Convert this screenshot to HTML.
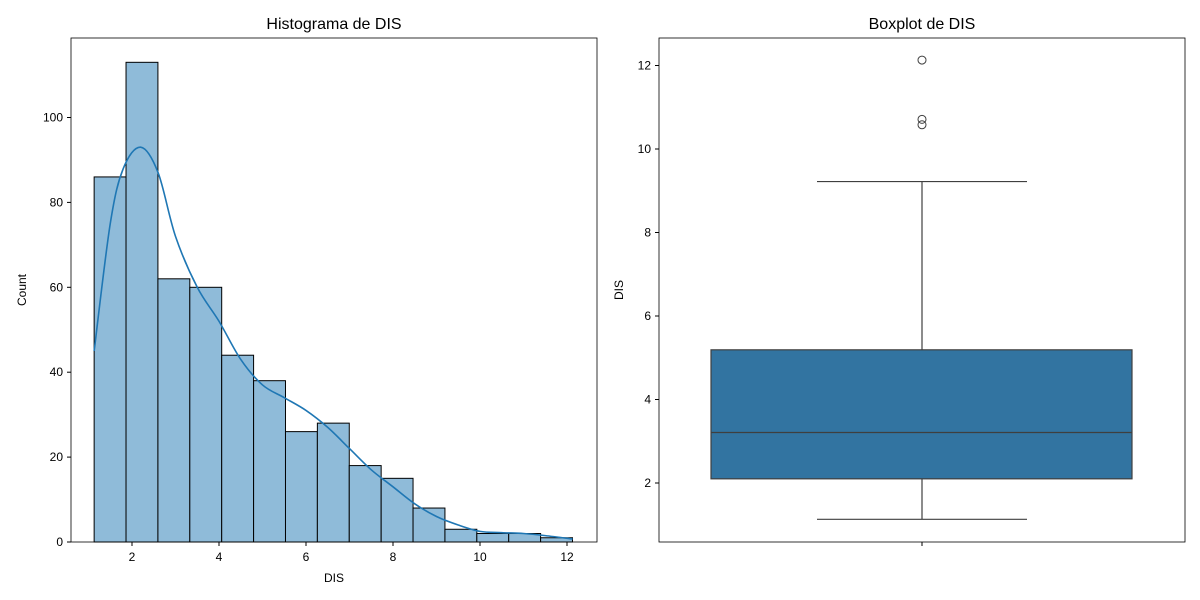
<!DOCTYPE html>
<html><head><meta charset="utf-8"><style>
body{margin:0;background:#fff;}
svg{display:block;font-family:"Liberation Sans","DejaVu Sans",sans-serif;}
</style></head><body>
<svg id="c" width="1200" height="600"></svg>
<script>
const binCounts=[86,113,62,60,44,38,26,28,18,15,8,3,2,2,1];
const dataMin=1.1296, dataMax=12.1265;
const kdeX=[1.13,1.5,1.8,2.2,2.6,3.0,3.5,4.0,4.5,5.0,5.5,6.0,6.5,7.0,7.5,8.0,8.5,9.0,9.5,10.0,10.5,11.0,11.5,12.13];
const kdeY=[45,75,88,93,87,72,60,52,43,37,34,31,27,22,17,13,9,6,4,2.5,2.2,2,1.5,0.7];
const histXTicks=[2,4,6,8,10,12];
const histYTicks=[0,20,40,60,80,100];
const boxStats={whisLo:1.13,q1:2.1,med:3.21,q3:5.19,whisHi:9.22};
const outliers=[10.58,10.71,12.13];
const boxYTicks=[2,4,6,8,10,12];

const NS="http://www.w3.org/2000/svg",svg=document.getElementById('c');
function mk(t,a,p){const e=document.createElementNS(NS,t);for(const k in a)e.setAttribute(k,a[k]);(p||svg).appendChild(e);return e;}
const L={x0:71,x1:597,y0:38,y1:542};
const hx=v=>132+(v-2)*43.5, hy=v=>542-v*4.245;
const bw=(dataMax-dataMin)/binCounts.length;
binCounts.forEach((c,i)=>{const a=hx(dataMin+i*bw),b=hx(dataMin+(i+1)*bw);
const r=mk('rect',{x:a,y:hy(c),width:b-a,height:hy(0)-hy(c),fill:'#8fbbd9',stroke:'#000','stroke-width':1});

});
// smooth curve (Catmull-Rom)
const P=kdeX.map((x,i)=>[hx(x),hy(kdeY[i])]);
let d='M'+P[0][0]+','+P[0][1];
for(let i=0;i<P.length-1;i++){const p0=P[Math.max(0,i-1)],p1=P[i],p2=P[i+1],p3=P[Math.min(P.length-1,i+2)];
d+='C'+(p1[0]+(p2[0]-p0[0])/6)+','+(p1[1]+(p2[1]-p0[1])/6)+' '+(p2[0]-(p3[0]-p1[0])/6)+','+(p2[1]-(p3[1]-p1[1])/6)+' '+p2[0]+','+p2[1];}
const kp=mk('path',{d:d,fill:'none',stroke:'#1f77b4','stroke-width':1.6});


mk('rect',{x:L.x0,y:L.y0,width:L.x1-L.x0,height:L.y1-L.y0,fill:'none',stroke:'#000','stroke-width':0.8,});
histXTicks.forEach(v=>{mk('line',{x1:hx(v),x2:hx(v),y1:542,y2:546,stroke:'#000'});
const t=mk('text',{x:hx(v),y:561,'text-anchor':'middle','font-size':12});t.textContent=v;
});
histYTicks.forEach(v=>{mk('line',{x1:67,x2:71,y1:hy(v),y2:hy(v),stroke:'#000'});
const t=mk('text',{x:63,y:hy(v)+4,'text-anchor':'end','font-size':12});t.textContent=v;
});
mk('text',{x:334,y:582,'text-anchor':'middle','font-size':12,}).textContent='DIS';
mk('text',{x:26,y:290,'text-anchor':'middle','font-size':12,transform:'rotate(-90 26 290)',}).textContent='Count';
mk('text',{x:334,y:29,'text-anchor':'middle','font-size':16,}).textContent='Histograma de DIS';
const by=v=>483-(v-2)*41.75;
const bx0=711,bx1=1132,bc=922;
mk('line',{x1:bc,x2:bc,y1:by(boxStats.whisLo),y2:by(boxStats.q1),stroke:'#3f3f3f','stroke-width':1.2,});
mk('line',{x1:bc,x2:bc,y1:by(boxStats.whisHi),y2:by(boxStats.q3),stroke:'#3f3f3f','stroke-width':1.2,});
mk('line',{x1:817,x2:1027,y1:by(boxStats.whisLo),y2:by(boxStats.whisLo),stroke:'#3f3f3f','stroke-width':1.2,});
mk('line',{x1:817,x2:1027,y1:by(boxStats.whisHi),y2:by(boxStats.whisHi),stroke:'#3f3f3f','stroke-width':1.2,});
mk('rect',{x:bx0,y:by(boxStats.q3),width:bx1-bx0,height:by(boxStats.q1)-by(boxStats.q3),fill:'#3274a1',stroke:'#3f3f3f','stroke-width':1.2,});
mk('line',{x1:bx0,x2:bx1,y1:by(boxStats.med),y2:by(boxStats.med),stroke:'#3f3f3f','stroke-width':1.2,});
outliers.forEach(v=>{const c=mk('circle',{cx:bc,cy:by(v),r:4,fill:'none',stroke:'#3f3f3f','stroke-width':1});
});
mk('rect',{x:659,y:38,width:526,height:504,fill:'none',stroke:'#000','stroke-width':0.8,});
mk('line',{x1:bc,x2:bc,y1:542,y2:546,stroke:'#000'});
boxYTicks.forEach(v=>{mk('line',{x1:655,x2:659,y1:by(v),y2:by(v),stroke:'#000'});
const t=mk('text',{x:651,y:by(v)+4,'text-anchor':'end','font-size':12});t.textContent=v;
});
mk('text',{x:623,y:290,'text-anchor':'middle','font-size':12,transform:'rotate(-90 623 290)',}).textContent='DIS';
mk('text',{x:922,y:29,'text-anchor':'middle','font-size':16,}).textContent='Boxplot de DIS';
</script>
</body></html>
